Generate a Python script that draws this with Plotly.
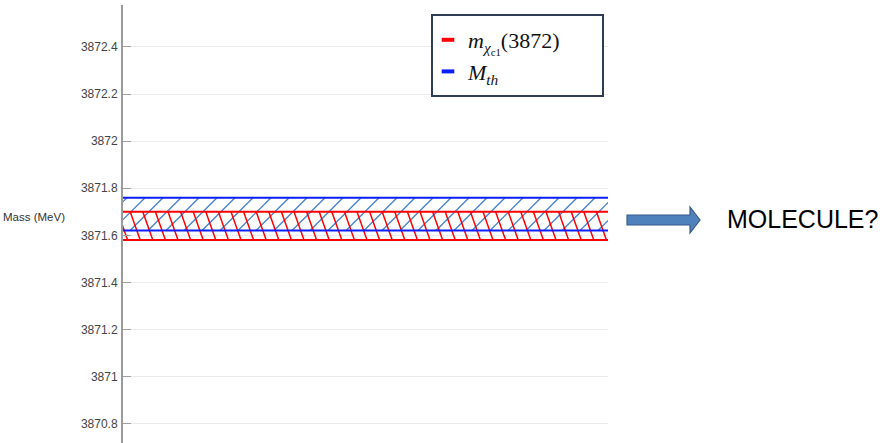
import numpy as np
import plotly.graph_objects as go

# ---- data ----
band_names = ["m_chi", "M_th"]
m_chi_bounds = [3871.58, 3871.70]   # red band (lower, upper)
m_th_bounds = [3871.62, 3871.76]    # blue band (lower, upper)
tick_vals = [3870.8, 3871.0, 3871.2, 3871.4, 3871.6, 3871.8, 3872.0, 3872.2, 3872.4]
tick_labels = ["3870.8", "3871", "3871.2", "3871.4", "3871.6", "3871.8", "3872", "3872.2", "3872.4"]
legend_labels = ["<i>m</i><sub><i>χ</i><sub>c1</sub></sub>(3872)", "<i>M</i><sub><i>th</i></sub>"]
side_text = "MOLECULE?"
y_title = "Mass (MeV)"

# ---- layout constants ----
W, H = 880, 443
ML, MR, MT, MB = 123, 272, 5, 0
PW, PH = W - ML - MR, H - MT - MB
y_range = [3870.718, 3872.578]
x_range = [0, 1]
px_per_x = PW / (x_range[1] - x_range[0])
px_per_y = PH / (y_range[1] - y_range[0])

RED = "#ff0000"
BLUE = "#0a1eff"
BLUE_HATCH = "#4a84cc"


def hatch(lo, hi, spacing_px, lean_px, phase_px):
    """Diagonal hatch segments across the band [lo, hi]; lean_px = horizontal
    shift (px) from bottom to top of the band (positive => '/')."""
    xs, ys = [], []
    start = -abs(lean_px) - spacing_px + phase_px
    n = int((PW + 2 * abs(lean_px) + 2 * spacing_px) / spacing_px) + 2
    for i in range(n):
        xb = (start + i * spacing_px) / px_per_x
        xt = xb + lean_px / px_per_x
        xs += [xb, xt, None]
        ys += [lo, hi, None]
    return xs, ys


fig = go.Figure()

# blue hatch ('/') 45 degrees
bl, bh = m_th_bounds
bx, by = hatch(bl, bh, 18.0, (bh - bl) * px_per_y, 4)
fig.add_trace(go.Scatter(x=bx, y=by, mode="lines", line=dict(color=BLUE_HATCH, width=1.4),
                         showlegend=False, hoverinfo="skip"))
# red hatch ('\') steep
rl, rh = m_chi_bounds
rx, ry = hatch(rl, rh, 12.6, -10.0, 2)
fig.add_trace(go.Scatter(x=rx, y=ry, mode="lines", line=dict(color=RED, width=1.5),
                         showlegend=False, hoverinfo="skip"))

# band borders
for val in m_chi_bounds:
    fig.add_trace(go.Scatter(x=x_range, y=[val, val], mode="lines", line=dict(color=RED, width=2),
                             showlegend=False, hoverinfo="skip"))
for val in m_th_bounds:
    fig.add_trace(go.Scatter(x=x_range, y=[val, val], mode="lines", line=dict(color=BLUE, width=2),
                             showlegend=False, hoverinfo="skip"))

# legend entries
for lab, col in zip(legend_labels, [RED, BLUE]):
    fig.add_trace(go.Scatter(x=[None], y=[None], mode="markers", name=lab,
                             marker=dict(symbol="line-ew", size=9,
                                         line=dict(color=col, width=4))))


def px_to_paper_x(px):
    return (px - ML) / PW


def px_to_paper_y(py):
    return (H - MB - py) / PH


# legend box
fig.add_shape(type="rect", xref="paper", yref="paper",
              x0=px_to_paper_x(432), x1=px_to_paper_x(603),
              y0=px_to_paper_y(96), y1=px_to_paper_y(15),
              fillcolor="white", line=dict(color="#2e3d55", width=2), layer="above")

# block arrow
pts = [(627, 215), (690, 215), (690, 207), (700, 220), (690, 233), (690, 225), (627, 225)]
path = "M " + " L ".join(f"{px_to_paper_x(x):.5f},{px_to_paper_y(y):.5f}" for x, y in pts) + " Z"
fig.add_shape(type="path", xref="paper", yref="paper", path=path,
              fillcolor="#4f81bd", line=dict(color="#385d8a", width=1.2), layer="above")

fig.add_annotation(xref="paper", yref="paper", x=px_to_paper_x(725), y=px_to_paper_y(219),
                   xanchor="left", yanchor="middle", text=side_text, showarrow=False,
                   font=dict(family="Liberation Sans, Arial", size=25, color="#000000"))
fig.add_annotation(xref="paper", yref="paper", x=px_to_paper_x(67), y=px_to_paper_y(217),
                   xanchor="right", yanchor="middle", text=y_title, showarrow=False,
                   font=dict(family="Liberation Sans, Arial", size=11.5, color="#333333"))

fig.update_layout(
    width=W, height=H,
    margin=dict(l=ML, r=MR, t=MT, b=MB, pad=0),
    paper_bgcolor="white", plot_bgcolor="white",
    showlegend=True,
    legend=dict(x=px_to_paper_x(428), y=px_to_paper_y(19), xanchor="left", yanchor="top",
                bgcolor="rgba(0,0,0,0)", borderwidth=0,
                font=dict(family="Liberation Serif, Times New Roman", size=22, color="#111111"),
                itemwidth=30, tracegroupgap=0),
    xaxis=dict(range=x_range, showgrid=False, zeroline=False, showline=False,
               showticklabels=False, ticks=""),
    yaxis=dict(range=y_range, tickvals=tick_vals, ticktext=tick_labels,
               showgrid=True, gridcolor="#ebebeb", gridwidth=1,
               zeroline=False, showline=True, linecolor="#9a9a9a", linewidth=2,
               ticks="inside", ticklen=8, tickcolor="#a0a0a0", tickwidth=1,
               ticklabelstandoff=1,
               tickfont=dict(family="Liberation Sans, Arial", size=12, color="#444444")),
)

fig.write_html("out.html")
